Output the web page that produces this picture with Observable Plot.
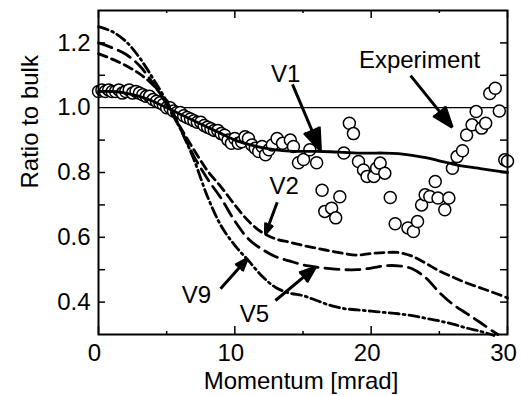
<!DOCTYPE html>
<html><head><meta charset="utf-8">
<script src="https://cdn.jsdelivr.net/npm/d3@7"></script>
<script src="https://cdn.jsdelivr.net/npm/@observablehq/plot@0.6"></script>
<style>body{margin:0;background:#fff} svg{display:block}</style>
</head><body><div id="chart"></div>
<script>
// Experiment (open circles)
const expX = [0,0.25,0.5,0.75,1,1.25,1.5,1.75,2,2.25,2.5,2.75,3,3.25,3.5,3.75,4,4.25,4.5,4.75,5,5.25,5.5,5.75,6,6.25,6.5,6.75,7,7.25,7.5,7.75,8,8.25,8.5,8.75,9,9.25,9.5,9.75,10,10.25,10.5,10.75,11,11.25,11.5,11.75,12,12.25,12.5,12.75,13.1,13.5,14.07,14.3,14.67,15.04,15.5,16.0,16.4,16.6,17.1,17.4,17.7,18.0,18.4,18.7,19.07,19.44,19.7,20.2,20.4,20.66,21.0,21.4,21.76,22.7,23.1,23.4,23.7,23.96,24.3,24.7,24.9,25.4,25.7,25.96,26.3,26.7,27.0,27.4,27.7,28.1,28.4,28.7,29.1,29.4,29.8,30.0];
const expY = [1.05,1.055,1.05,1.055,1.05,1.05,1.055,1.045,1.05,1.055,1.045,1.05,1.045,1.04,1.035,1.035,1.025,1.02,1.015,1.01,1.0,1.0,0.99,0.985,0.985,0.975,0.97,0.965,0.96,0.955,0.955,0.945,0.94,0.935,0.93,0.93,0.92,0.915,0.90,0.89,0.905,0.89,0.895,0.91,0.905,0.885,0.875,0.865,0.88,0.855,0.87,0.885,0.905,0.89,0.90,0.88,0.83,0.84,0.87,0.83,0.745,0.68,0.69,0.66,0.725,0.86,0.952,0.92,0.834,0.808,0.788,0.788,0.813,0.829,0.798,0.723,0.642,0.629,0.618,0.649,0.70,0.731,0.726,0.772,0.721,0.685,0.721,0.813,0.849,0.867,0.916,0.947,0.988,0.937,0.952,1.044,1.06,0.99,0.839,0.835];

// V1 (solid)
const v1X = [0,1,2,3,4,5,6,7,8,9,10,11,12,13,14,15,16,17,18,19,20,21,22,23,24,25,26,27,28,29,30];
const v1Y = [1.05,1.05,1.045,1.035,1.02,1.0,0.98,0.96,0.94,0.92,0.90,0.887,0.877,0.87,0.866,0.865,0.865,0.864,0.862,0.86,0.86,0.86,0.858,0.853,0.846,0.836,0.826,0.818,0.812,0.806,0.80];
// V2 (short dash)
const v2X = [0,1,2,3,4,5,6,7,8,9,10,11,12,13,14,15,16,17,18,19,20,21,22,23,24,25,26,27,28,29,30];
const v2Y = [1.167,1.15,1.13,1.105,1.07,1.015,0.94,0.87,0.805,0.755,0.70,0.65,0.615,0.595,0.585,0.575,0.566,0.558,0.55,0.545,0.55,0.553,0.553,0.542,0.52,0.496,0.477,0.459,0.444,0.429,0.413];
// V5 (long dash)
const v5X = [0,1,2,3,4,5,6,7,8,9,10,11,12,13,14,15,16,17,18,19,20,21,22,23,24,25,26,27,28,29,29.3];
const v5Y = [1.2,1.185,1.165,1.13,1.075,1.01,0.935,0.85,0.78,0.72,0.65,0.595,0.563,0.54,0.527,0.515,0.508,0.503,0.5,0.5,0.505,0.512,0.512,0.503,0.475,0.43,0.393,0.365,0.337,0.308,0.3];
// V9 (dash-dot)
const v9X = [0,1,2,3,4,5,6,7,8,9,10,11,12,13,14,15,16,17,18,19,20,21,22,23,24,25,26,27,28,29];
const v9Y = [1.25,1.235,1.205,1.155,1.09,1.02,0.935,0.84,0.725,0.635,0.575,0.528,0.48,0.445,0.428,0.42,0.405,0.39,0.38,0.376,0.372,0.368,0.364,0.358,0.35,0.342,0.332,0.32,0.31,0.297];

// Annotations
const labelText = ["Experiment","V1","V2","V9","V5"];
const labelX = [23.55,13.72,13.61,7.19,11.44];
const labelY = [1.121,1.078,0.735,0.396,0.340];
const arrowX1 = [22.89,14.23,13.11,8.95,12.98];
const arrowY1 = [1.099,1.072,0.708,0.441,0.405];
const arrowX2 = [25.94,16.28,12.25,10.91,15.92];
const arrowY2 = [0.940,0.868,0.611,0.534,0.508];

// Axes
const xTickLabels = [0,10,20,30];
const xMinorTicks = [5,15,25];
const yTickLabels = [0.4,0.6,0.8,1.0,1.2];
const yTickMarks = [0.4,0.5,0.6,0.7,0.8,0.9,1.1,1.2];

const toRows = (xs, ys) => xs.map((x, i) => ({x, y: ys[i]}));
const experiment = toRows(expX, expY);
const v1 = toRows(v1X, v1Y), v2 = toRows(v2X, v2Y), v5 = toRows(v5X, v5Y), v9 = toRows(v9X, v9Y);
const labels = labelText.map((t, i) => ({t, x: labelX[i], y: labelY[i]}));
const arrows = arrowX1.map((x1, i) => ({x1, y1: arrowY1[i], x2: arrowX2[i], y2: arrowY2[i]}));

const W = 521, H = 396, mL = 98, mR = 14, mT = 10, mB = 62;
const pw = W - mL - mR, ph = H - mT - mB;
const font = "'Liberation Sans', Arial, Helvetica, sans-serif";

const chart = Plot.plot({
  width: W, height: H,
  marginLeft: mL, marginRight: mR, marginTop: mT, marginBottom: mB,
  x: {domain: [0, 30], axis: null},
  y: {domain: [0.3, 1.3], axis: null},
  style: {fontFamily: font, background: "white", color: "black", overflow: "visible"},
  marks: [
    Plot.ruleY([1], {stroke: "black", strokeWidth: 1.3}),
    Plot.dot(experiment, {x: "x", y: "y", r: 6, fill: "white", stroke: "black", strokeWidth: 1.5}),
    Plot.line(v1, {x: "x", y: "y", stroke: "black", strokeWidth: 2.8, curve: "catmull-rom"}),
    Plot.line(v2, {x: "x", y: "y", stroke: "black", strokeWidth: 2.8, curve: "catmull-rom", strokeDasharray: "9,5"}),
    Plot.line(v5, {x: "x", y: "y", stroke: "black", strokeWidth: 2.8, curve: "catmull-rom", strokeDasharray: "14,7"}),
    Plot.line(v9, {x: "x", y: "y", stroke: "black", strokeWidth: 2.8, curve: "catmull-rom", strokeDasharray: "10,4,2,4"}),
    Plot.frame({stroke: "black", strokeWidth: 2}),
    // inward ticks
    Plot.tickX(xTickLabels, {x: d => d, stroke: "black", strokeWidth: 1.5, insetTop: ph - 8}),
    Plot.tickX(xTickLabels, {x: d => d, stroke: "black", strokeWidth: 1.5, insetBottom: ph - 8}),
    Plot.tickX(xMinorTicks, {x: d => d, stroke: "black", strokeWidth: 1.5, insetTop: ph - 3}),
    Plot.tickX(xMinorTicks, {x: d => d, stroke: "black", strokeWidth: 1.5, insetBottom: ph - 3}),
    Plot.tickY(yTickMarks, {y: d => d, stroke: "black", strokeWidth: 1.5, insetRight: pw - 7}),
    Plot.tickY(yTickMarks, {y: d => d, stroke: "black", strokeWidth: 1.5, insetLeft: pw - 7}),
    // tick labels
    Plot.text(xTickLabels, {x: d => d, text: d => String(d), frameAnchor: "bottom", lineAnchor: "top", dy: 9, dx: -4, fontSize: 24, fill: "black"}),
    Plot.text(yTickLabels, {y: d => d, text: d => d.toFixed(1), frameAnchor: "left", textAnchor: "end", dx: -8, fontSize: 24, fill: "black"}),
    // axis titles
    Plot.text(["Momentum [mrad]"], {frameAnchor: "bottom", lineAnchor: "bottom", dy: 54, dx: -2, fontSize: 24, fill: "black"}),
    Plot.text(["Ratio to bulk"], {frameAnchor: "left", lineAnchor: "bottom", rotate: -90, dx: -61, dy: 16, fontSize: 24, fill: "black"}),
    // annotations
    Plot.text(labels, {x: "x", y: "y", text: "t", lineAnchor: "bottom", fontSize: 24, fill: "black"}),
    Plot.arrow(arrows, {x1: "x1", y1: "y1", x2: "x2", y2: "y2", stroke: "black", fill: "black", strokeWidth: 3, headLength: 16, headAngle: 40, strokeLinejoin: "miter", strokeLinecap: "butt"})
  ]
});
document.getElementById("chart").appendChild(chart);
</script>
</body></html>
